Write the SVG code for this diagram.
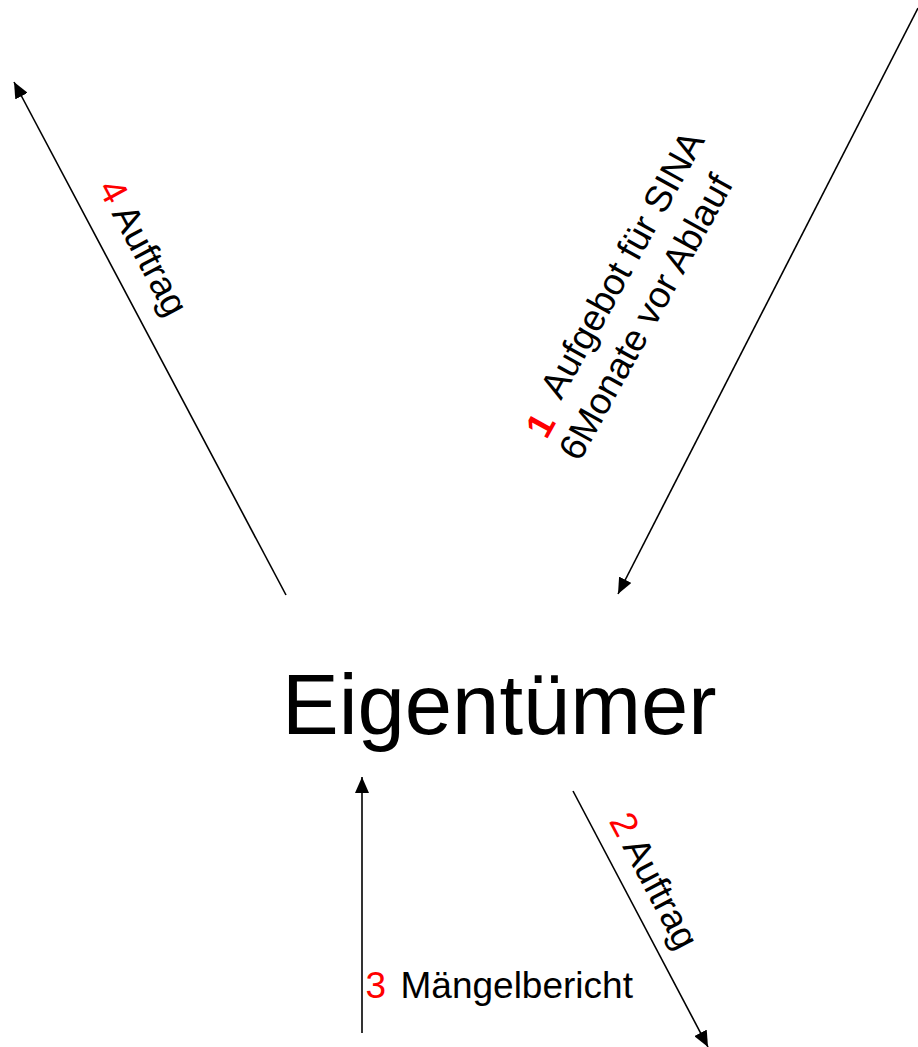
<svg xmlns="http://www.w3.org/2000/svg" width="918" height="1047" viewBox="0 0 918 1047">
<style>
.t{font-family:"Liberation Sans",Arial,sans-serif;font-size:37px;fill:#000}
.r{fill:#ff0000}
.c{stroke:#000;stroke-width:1.6;fill:none}
</style>
<defs>
<marker id="ah" viewBox="0 0 16 14" refX="16" refY="7" markerWidth="16" markerHeight="14" markerUnits="userSpaceOnUse" orient="auto">
<path d="M0,0 L16,7 L0,14 z" fill="#000"/>
</marker>
</defs>
<rect width="918" height="1047" fill="#fff"/>
<g id="connectors">
<line id="c1" class="c" x1="918" y1="8" x2="618" y2="594" marker-end="url(#ah)"/>
<line id="c2" class="c" x1="573" y1="791" x2="708" y2="1047" marker-end="url(#ah)"/>
<line id="c3" class="c" x1="362" y1="1033" x2="362" y2="777" marker-end="url(#ah)"/>
<line id="c4" class="c" x1="286" y1="595" x2="14" y2="82" marker-end="url(#ah)"/>
</g>
<g id="node-eigentuemer">
<text x="282" y="734" font-family="Liberation Sans, Arial, sans-serif" font-size="85">Eigentümer</text>
</g>
<g id="label1" transform="translate(561,401) rotate(-61)">
<text class="t r" x="-41.3" y="6.3" font-weight="bold">1</text>
<text class="t" x="0" y="0">Aufgebot für SINA</text>
<text class="t" x="-45" y="46">6Monate vor Ablauf</text>
</g>
<g id="label2" transform="translate(608.5,821) rotate(62.2)">
<text class="t"><tspan class="r">2</tspan> Auftrag</text>
</g>
<g id="label3">
<text class="t" y="998"><tspan class="r" x="365.5">3</tspan><tspan x="400.5">Mängelbericht</tspan></text>
</g>
<g id="label4" transform="translate(97.6,188) rotate(62)">
<text class="t"><tspan class="r">4</tspan> Auftrag</text>
</g>
</svg>
